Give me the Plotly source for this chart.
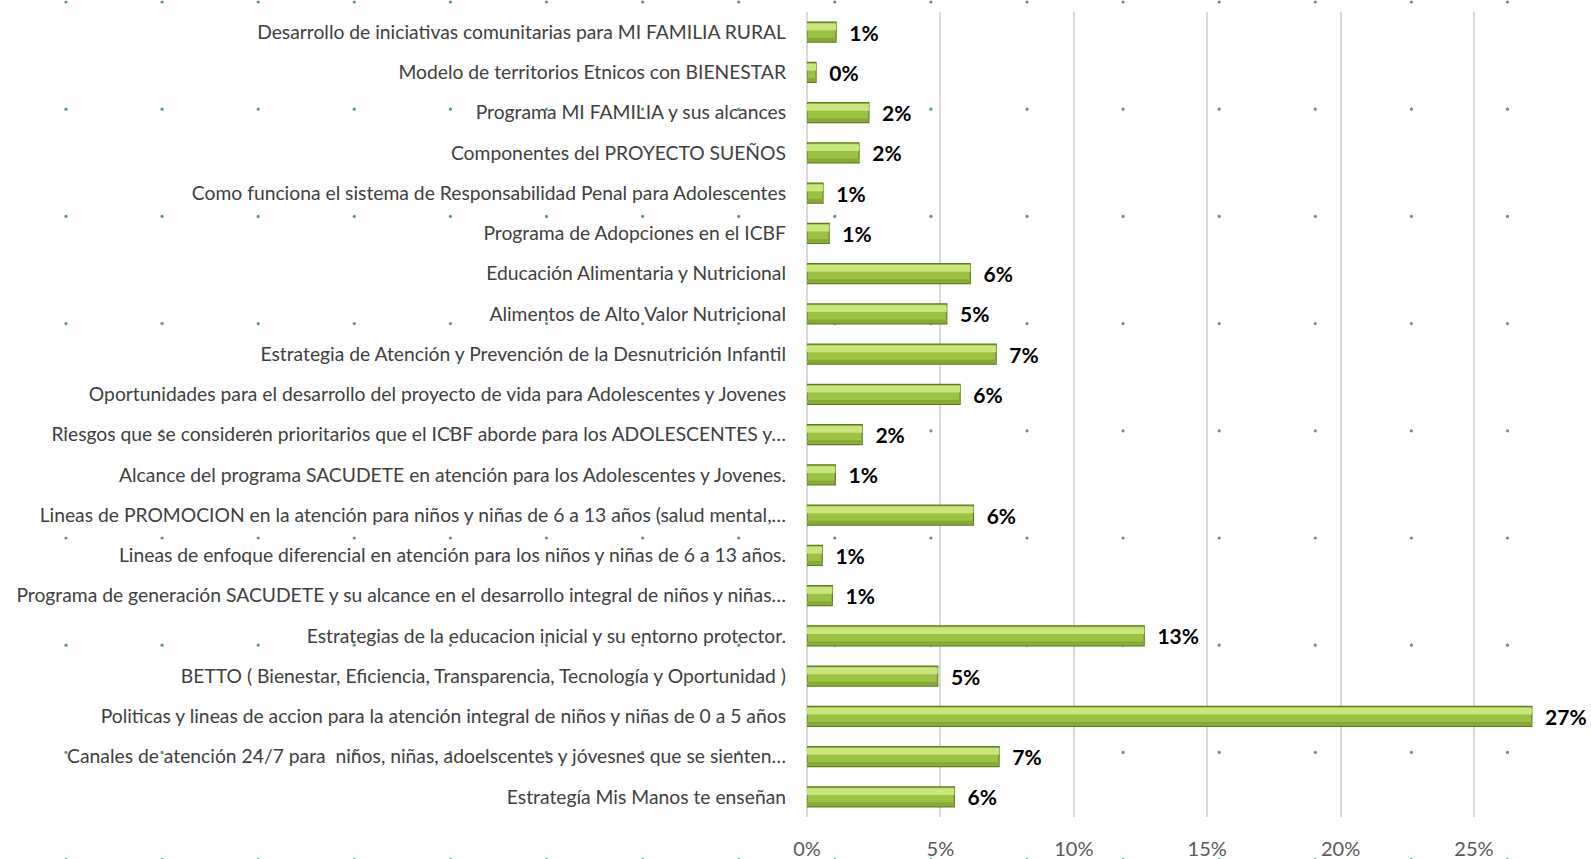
import plotly.graph_objects as go

categories = [
    "Desarrollo de iniciativas comunitarias para MI FAMILIA RURAL",
    "Modelo de territorios Etnicos con BIENESTAR",
    "Programa MI FAMILIA y sus alcances",
    "Componentes del PROYECTO SUEÑOS",
    "Como funciona el sistema de Responsabilidad Penal para Adolescentes",
    "Programa de Adopciones en el ICBF",
    "Educación Alimentaria y Nutricional",
    "Alimentos de Alto Valor Nutricional",
    "Estrategia de Atención y Prevención de la Desnutrición Infantil",
    "Oportunidades para el desarrollo del proyecto de vida para Adolescentes y Jovenes",
    "Riesgos que se consideren prioritarios que el ICBF aborde para los ADOLESCENTES y…",
    "Alcance del programa SACUDETE en atención para los Adolescentes y Jovenes.",
    "Lineas de PROMOCION en la atención para niños y niñas de 6 a 13 años (salud mental,…",
    "Lineas de enfoque diferencial en atención para los niños y niñas de 6 a 13 años.",
    "Programa de generación SACUDETE y su alcance en el desarrollo integral de niños y niñas…",
    "Estrategias de la educacion inicial y su entorno protector.",
    "BETTO ( Bienestar, Eficiencia, Transparencia, Tecnología y Oportunidad )",
    "Politicas y lineas de accion para la atención integral de niños y niñas de 0 a 5 años",
    "Canales de atención 24/7 para  niños, niñas, adoelscentes y jóvesnes que se sienten…",
    "Estrategía Mis Manos te enseñan",
]

values = [
    0.0109, 0.0034, 0.0232, 0.0195, 0.0060, 0.0083, 0.0612, 0.0524, 0.0709, 0.0574,
    0.0207, 0.0106, 0.0624, 0.0057, 0.0095, 0.1264, 0.0490, 0.2717, 0.0720, 0.0552,
]

x_ticks = [0, 0.05, 0.10, 0.15, 0.20, 0.25]

W, H = 1591, 859
ML, MR, MT, MB = 807, 37, 12, 42

fig = go.Figure()

# main bar body
fig.add_trace(go.Bar(
    y=categories, x=values, orientation="h",
    width=0.5, offset=-0.25,
    marker=dict(color="#9cc244", line=dict(color="#5f7a22", width=1.2)),
    texttemplate="\u00a0\u00a0%{x:.0%}",
    textposition="outside",
    constraintext="none",
    cliponaxis=False,
    textfont=dict(family="Lato", size=21, color="#000000", weight="bold"),
    hoverinfo="y+x",
    showlegend=False,
))
# bevel highlight strip (upper part)
fig.add_trace(go.Bar(
    y=categories, x=values, orientation="h",
    width=0.17, offset=-0.215,
    marker=dict(color="#c9e67c", line=dict(width=0)),
    hoverinfo="skip",
    showlegend=False,
))
# bevel shade strip (lower part)
fig.add_trace(go.Bar(
    y=categories, x=values, orientation="h",
    width=0.08, offset=0.14,
    marker=dict(color="#86a834", line=dict(width=0)),
    hoverinfo="skip",
    showlegend=False,
))

# decorative background dot grid (slide background pattern)
pw = W - ML - MR
ph = H - MT - MB
shapes = []
for r in range(9):
    py = 2 + r * 107.2
    for c in range(16):
        px = 66 + c * 96.1
        xp = (px - ML) / pw
        yp = 1 - (py - MT) / ph
        shapes.append(dict(
            type="circle", xref="paper", yref="paper",
            x0=xp - 1.6 / pw, x1=xp + 1.6 / pw,
            y0=yp - 1.6 / ph, y1=yp + 1.6 / ph,
            fillcolor="#5e9a7c", line=dict(width=0), layer="below",
        ))

fig.update_layout(
    width=W, height=H,
    margin=dict(l=ML, r=MR, t=MT, b=MB),
    paper_bgcolor="white", plot_bgcolor="rgba(0,0,0,0)",
    barmode="overlay",
    shapes=shapes,
    font=dict(family="Lato", color="#404040"),
    xaxis=dict(
        range=[0, 0.28], tickvals=x_ticks, tickformat=".0%",
        showgrid=True, gridcolor="#d9d9d9", gridwidth=2,
        zeroline=True, zerolinecolor="#d9d9d9", zerolinewidth=2,
        showline=False, ticks="",
        tickfont=dict(family="Lato", size=20, color="#595959"),
        ticklabelstandoff=18, automargin=False,
    ),
    yaxis=dict(
        autorange="reversed", type="category",
        showgrid=False, zeroline=False, showline=False, ticks="",
        tickfont=dict(family="Lato", size=19.3, color="#404040"),
        ticklabelstandoff=20, automargin=False,
    ),
)

fig.write_html(
    "out.html",
    config={"displayModeBar": False},
    post_script="document.body.style.margin='0';document.body.style.overflow='hidden';",
)
